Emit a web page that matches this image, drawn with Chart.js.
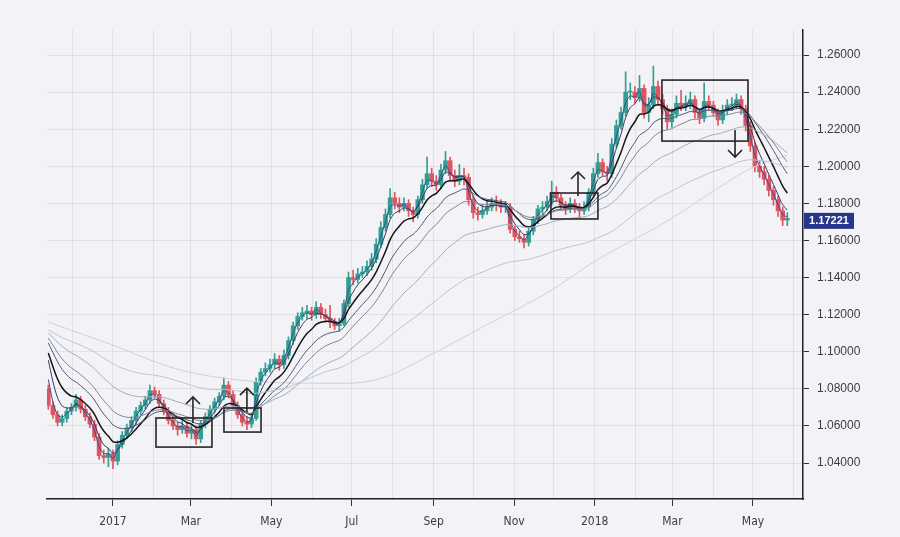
<!DOCTYPE html>
<html>
<head>
<meta charset="utf-8">
<script src="https://cdn.jsdelivr.net/npm/chart.js@4.4.1/dist/chart.umd.min.js"></script>
<style>
  html, body { margin: 0; padding: 0; background: #f3f2f6; }
  #wrap { width: 900px; height: 537px; position: relative; }
</style>
</head>
<body>
<div id="wrap"><canvas id="ribbon-chart"></canvas></div>
<script>
// Price candles, one every 3.5 calendar days (days counted from 1 Jan 2017)
const startDay = -49;
const stepDays = 3.5;
const tradingDaysPerCandle = 2.5;
const firstOpen = 1.080;

const closes = [
  1.071, 1.066, 1.062, 1.064, 1.068, 1.070, 1.074, 1.069, 1.065, 1.061,
  1.054, 1.044, 1.043, 1.045, 1.041, 1.050, 1.055, 1.059, 1.063, 1.068,
  1.071, 1.074, 1.079, 1.077, 1.072, 1.068, 1.063, 1.060, 1.058, 1.060,
  1.056, 1.058, 1.053, 1.061, 1.065, 1.069, 1.073, 1.076, 1.082, 1.077,
  1.071, 1.066, 1.062, 1.061, 1.064, 1.084, 1.089, 1.091, 1.093, 1.096,
  1.093, 1.098, 1.106, 1.114, 1.119, 1.121, 1.122, 1.120, 1.124, 1.120,
  1.118, 1.116, 1.114, 1.115, 1.126, 1.140, 1.139, 1.142, 1.143, 1.146,
  1.150, 1.158, 1.167, 1.174, 1.183, 1.180, 1.178, 1.180, 1.176, 1.174,
  1.182, 1.190, 1.196, 1.192, 1.190, 1.198, 1.203, 1.195, 1.192, 1.195,
  1.194, 1.182, 1.175, 1.174, 1.176, 1.178, 1.180, 1.179, 1.178, 1.178,
  1.166, 1.162, 1.161, 1.159, 1.165, 1.171, 1.177, 1.178, 1.181, 1.186,
  1.183, 1.179, 1.177, 1.180, 1.178, 1.176, 1.178, 1.186, 1.196, 1.202,
  1.197, 1.196, 1.212, 1.222, 1.229, 1.240, 1.240, 1.237, 1.242, 1.229,
  1.233, 1.243, 1.236, 1.231, 1.224, 1.228, 1.234, 1.233, 1.234, 1.236,
  1.229, 1.226, 1.235, 1.233, 1.229, 1.225, 1.230, 1.233, 1.233, 1.236,
  1.231, 1.222, 1.211, 1.200, 1.197, 1.193, 1.187, 1.182, 1.176, 1.171,
  1.172
];

const highs = [
  1.082, 1.073, 1.068, 1.066, 1.070, 1.072, 1.077, 1.076, 1.071, 1.067,
  1.063, 1.056, 1.047, 1.048, 1.047, 1.052, 1.057, 1.061, 1.065, 1.070,
  1.073, 1.076, 1.082, 1.081, 1.079, 1.074, 1.070, 1.065, 1.062, 1.063,
  1.062, 1.061, 1.060, 1.063, 1.067, 1.071, 1.075, 1.078, 1.086, 1.084,
  1.079, 1.073, 1.068, 1.065, 1.067, 1.086, 1.091, 1.094, 1.096, 1.099,
  1.098, 1.101, 1.108, 1.116, 1.121, 1.124, 1.125, 1.124, 1.127, 1.126,
  1.123, 1.125, 1.118, 1.118, 1.128, 1.143, 1.144, 1.145, 1.146, 1.149,
  1.153, 1.161, 1.170, 1.177, 1.188, 1.186, 1.183, 1.183, 1.182, 1.178,
  1.184, 1.193, 1.205, 1.199, 1.195, 1.201, 1.208, 1.205, 1.198, 1.201,
  1.199, 1.196, 1.184, 1.178, 1.179, 1.181, 1.183, 1.184, 1.182, 1.181,
  1.180, 1.168, 1.165, 1.163, 1.167, 1.173, 1.179, 1.181, 1.184, 1.192,
  1.189, 1.185, 1.181, 1.183, 1.182, 1.180, 1.181, 1.188, 1.199, 1.207,
  1.204, 1.200, 1.215, 1.225, 1.232, 1.251, 1.245, 1.243, 1.249, 1.244,
  1.237, 1.254, 1.246, 1.239, 1.233, 1.231, 1.238, 1.241, 1.238, 1.240,
  1.238, 1.231, 1.245, 1.238, 1.235, 1.231, 1.233, 1.236, 1.237, 1.239,
  1.238, 1.233, 1.224, 1.213, 1.203, 1.200, 1.195, 1.189, 1.184, 1.178,
  1.175
];

const lows = [
  1.069, 1.064, 1.060, 1.060, 1.062, 1.066, 1.068, 1.067, 1.063, 1.059,
  1.052, 1.042, 1.040, 1.038, 1.037, 1.039, 1.048, 1.053, 1.057, 1.061,
  1.066, 1.069, 1.072, 1.075, 1.070, 1.066, 1.061, 1.058, 1.055, 1.056,
  1.054, 1.053, 1.050, 1.051, 1.059, 1.063, 1.067, 1.071, 1.074, 1.075,
  1.069, 1.064, 1.060, 1.058, 1.059, 1.063, 1.082, 1.087, 1.089, 1.091,
  1.090, 1.091, 1.096, 1.104, 1.112, 1.117, 1.118, 1.117, 1.118, 1.118,
  1.116, 1.113, 1.112, 1.111, 1.114, 1.124, 1.136, 1.137, 1.140, 1.141,
  1.144, 1.148, 1.156, 1.165, 1.172, 1.177, 1.175, 1.176, 1.173, 1.170,
  1.172, 1.180, 1.188, 1.189, 1.187, 1.188, 1.196, 1.192, 1.189, 1.190,
  1.190, 1.179, 1.172, 1.171, 1.172, 1.174, 1.176, 1.176, 1.175, 1.175,
  1.164, 1.160, 1.159, 1.156, 1.157, 1.163, 1.169, 1.174, 1.176, 1.179,
  1.181, 1.177, 1.174, 1.175, 1.175, 1.172, 1.174, 1.176, 1.184, 1.194,
  1.195, 1.192, 1.194, 1.210, 1.220, 1.227, 1.236, 1.234, 1.235, 1.226,
  1.224, 1.231, 1.233, 1.228, 1.220, 1.221, 1.226, 1.230, 1.230, 1.231,
  1.226, 1.223, 1.224, 1.230, 1.227, 1.222, 1.223, 1.228, 1.230, 1.231,
  1.228, 1.219, 1.208, 1.197, 1.194, 1.190, 1.184, 1.179, 1.173, 1.168,
  1.168
];

// Moving average ribbon: periods (trading days) and values at the left edge
const maPeriods = [5, 10, 20, 35, 50, 90, 170];
const maSeeds = [1.085, 1.0955, 1.0993, 1.1047, 1.1074, 1.110, 1.1117];
const maColors = ['#34508f', '#343a5c', '#141418', '#4f566e', '#7b859b', '#9eabc2', '#b4c4da'];
const maWidths = [1, 1, 1.5, 1, 1, 1, 1];

// Long average (days from 1 Jan 2017 / price)
const longMaDays = [-49, -4.5, 50.8, 96.2, 141.7, 177.3, 204.6, 242.5, 285.7, 328.9, 366.8, 421.3, 456.2, 483.5, 511];
const longMaValues = [1.116, 1.1047, 1.0902, 1.0847, 1.0831, 1.0830, 1.0860, 1.0990, 1.1155, 1.1317, 1.1495, 1.1710, 1.1872, 1.1990, 1.2060];

// Axis ticks
const monthDays = [-31, 0, 31, 59, 90, 120, 151, 181, 212, 243, 273, 304, 334, 365, 396, 424, 455, 485, 516];
const monthLabels = ['', '2017', '', 'Mar', '', 'May', '', 'Jul', '', 'Sep', '', 'Nov', '', '2018', '', 'Mar', '', 'May', ''];
const priceTicks = [1.04, 1.06, 1.08, 1.10, 1.12, 1.14, 1.16, 1.18, 1.20, 1.22, 1.24, 1.26];
const lastPrice = 1.17221;

// Annotations (days / prices)
const boxStartDay = [32.6, 84.1, 331.9, 416.0];
const boxEndDay = [75.0, 112.2, 367.5, 481.2];
const boxLow = [1.0486, 1.0567, 1.1716, 1.2136];
const boxHigh = [1.0643, 1.0697, 1.1856, 1.2465];
const arrowDay = [60.6, 101.5, 352.4, 471.4];
const arrowFrom = [1.0616, 1.0675, 1.1840, 1.2196];
const arrowTo = [1.0756, 1.0804, 1.1969, 1.2050];

const days = closes.map((c, i) => startDay + i * stepDays);
const opens = closes.map((c, i) => i === 0 ? firstOpen : closes[i - 1]);
const candleColors = closes.map((c, i) => c >= opens[i] ? '#339f92' : '#e0545f');

function ema(values, period, seed) {
    const a = 1 - Math.pow(1 - 2 / (period + 1), tradingDaysPerCandle);
    let e = seed;
    return values.map((v, i) => {
        if (i > 0) e = e + a * (v - e);
        return e;
    });
}

const maDatasets = maPeriods.map((p, k) => {
    const vals = ema(closes, p, maSeeds[k]);
    return {
        type: 'line',
        data: vals.map((v, i) => ({x: days[i], y: v})),
        borderColor: maColors[k],
        borderWidth: maWidths[k],
        pointRadius: 0,
        tension: 0.3,
        order: 1 + (maPeriods.length - k) * 0.01
    };
});

const annotate = {
    id: 'annotate',
    afterDatasetsDraw(chart) {
        const {ctx, scales: {x, y}} = chart;
        ctx.save();
        ctx.strokeStyle = '#262626';
        ctx.lineWidth = 1.6;
        boxStartDay.forEach((d, i) => {
            const x0 = x.getPixelForValue(d), x1 = x.getPixelForValue(boxEndDay[i]);
            const y0 = y.getPixelForValue(boxHigh[i]), y1 = y.getPixelForValue(boxLow[i]);
            ctx.strokeRect(x0, y0, x1 - x0, y1 - y0);
        });
        arrowDay.forEach((d, i) => {
            const ax = x.getPixelForValue(d);
            const ya = y.getPixelForValue(arrowFrom[i]);
            const yb = y.getPixelForValue(arrowTo[i]);
            const dir = yb < ya ? 1 : -1;
            ctx.beginPath();
            ctx.moveTo(ax, ya);
            ctx.lineTo(ax, yb);
            ctx.moveTo(ax - 7, yb + 7 * dir);
            ctx.lineTo(ax, yb);
            ctx.lineTo(ax + 7, yb + 7 * dir);
            ctx.stroke();
        });
        ctx.restore();
    },
    afterDraw(chart) {
        const {ctx, chartArea, scales: {y}} = chart;
        const py = y.getPixelForValue(lastPrice) + 3;
        ctx.save();
        ctx.fillStyle = '#27368a';
        ctx.fillRect(chartArea.right + 1, py - 8, 50, 16);
        ctx.fillStyle = '#ffffff';
        ctx.font = 'bold 11px "Liberation Sans", sans-serif';
        ctx.textAlign = 'center';
        ctx.textBaseline = 'middle';
        ctx.fillText(lastPrice.toFixed(5), chartArea.right + 26, py + 0.5);
        ctx.restore();
    }
};

new Chart(document.getElementById('ribbon-chart').getContext('2d'), {
    type: 'bar',
    data: {
        datasets: [
            {
                type: 'bar',
                data: days.map((d, i) => ({x: d, y: [lows[i], highs[i]]})),
                backgroundColor: candleColors,
                barThickness: 1,
                grouped: false,
                order: 3
            },
            {
                type: 'bar',
                data: days.map((d, i) => ({x: d, y: [opens[i], closes[i]]})),
                backgroundColor: candleColors,
                barThickness: 4,
                minBarLength: 1,
                grouped: false,
                order: 2
            },
            {
                type: 'line',
                data: longMaDays.map((d, i) => ({x: d, y: longMaValues[i]})),
                borderColor: '#cdd1db',
                borderWidth: 1,
                pointRadius: 0,
                cubicInterpolationMode: 'monotone',
                order: 1.5
            },
            ...maDatasets
        ]
    },
    options: {
        responsive: true,
        maintainAspectRatio: false,
        animation: false,
        layout: {padding: {left: 47, top: 30, right: 0, bottom: 0}},
        plugins: {legend: {display: false}, tooltip: {enabled: false}},
        scales: {
            x: {
                type: 'linear',
                min: -50,
                max: 522.9,
                offset: false,
                afterBuildTicks: scale => { scale.ticks = monthDays.map(v => ({value: v})); },
                afterFit: scale => { scale.height = 38; },
                border: {color: '#222', width: 1.5},
                grid: {
                    offset: false,
                    color: 'rgba(60,60,80,0.09)',
                    tickLength: 7,
                    tickColor: ctx => monthLabels[ctx.index] ? '#333' : 'rgba(0,0,0,0)'
                },
                ticks: {
                    autoSkip: false,
                    maxRotation: 0,
                    padding: 9,
                    color: '#3c3c44',
                    font: {family: '"Liberation Sans Narrow", "DejaVu Sans Condensed", "Liberation Sans"', size: 12},
                    callback: (v, i) => monthLabels[i]
                }
            },
            y: {
                type: 'linear',
                position: 'right',
                min: 1.0206,
                max: 1.2735,
                afterBuildTicks: scale => { scale.ticks = priceTicks.map(v => ({value: v})); },
                afterFit: scale => { scale.width = 97; },
                border: {color: '#222', width: 1.5},
                grid: {color: 'rgba(60,60,80,0.09)', tickLength: 6, tickColor: '#333'},
                ticks: {
                    padding: 8,
                    color: '#3c3c44',
                    font: {family: '"Liberation Sans", sans-serif', size: 12},
                    callback: v => v.toFixed(5)
                }
            }
        }
    },
    plugins: [annotate]
});
</script>
</body>
</html>
